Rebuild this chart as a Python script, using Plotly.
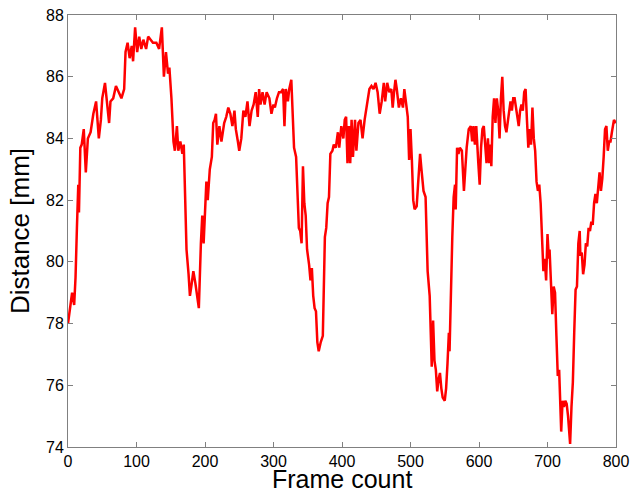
import plotly.graph_objects as go

# Distance trace (frame index -> distance in mm)
frames_a = [0, 3, 6, 9, 11, 13, 15, 16, 18, 20,
            23, 26, 29, 33, 37, 41, 45, 48, 50, 54,
            57, 60, 62, 66, 70, 74, 78, 82, 84, 87,
            90, 93, 95, 98, 101, 104, 107, 110, 114, 117,
            121, 124, 129, 133, 137, 140, 143, 146, 148, 151,
            154, 156, 159, 161, 164, 167, 169, 171, 173, 176,
            178, 180, 183, 186, 188, 191, 194, 196, 198, 200,
            202, 204, 207, 210, 212, 214, 216, 218, 221, 224,
            228, 231, 234, 237, 240, 243, 245, 248, 250, 253,
            256, 259, 262, 265, 268, 271, 274, 277, 279]
dist_a = [78.0, 78.5, 79.0, 78.6, 79.5, 81.1, 82.5, 81.6, 83.7, 83.8,
          84.3, 82.9, 84.0, 84.2, 84.8, 85.2, 84.0, 84.6, 85.3, 85.8,
          85.2, 84.5, 85.2, 85.3, 85.7, 85.5, 85.3, 85.6, 86.8, 87.1,
          86.6, 87.0, 86.5, 87.6, 86.8, 87.3, 86.9, 87.2, 86.9, 87.3,
          87.2, 87.1, 87.1, 86.9, 87.6, 86.0, 86.8, 86.1, 86.3, 85.3,
          83.9, 83.6, 84.4, 83.6, 83.9, 83.5, 83.8, 81.7, 80.4, 79.6,
          78.9, 79.2, 79.7, 79.3, 78.9, 78.5, 80.6, 81.5, 80.6, 81.9,
          82.6, 82.0, 83.0, 83.4, 84.5, 84.6, 84.8, 83.8, 84.4, 83.9,
          84.5, 84.7, 85.0, 84.8, 84.4, 84.9, 84.3, 83.9, 83.6, 84.0,
          84.9, 84.7, 85.2, 84.4, 84.9, 85.1, 85.5, 84.7, 85.6]

frames_b = [281, 284, 287, 290, 294, 297, 300, 302, 305, 308,
            311, 314, 316, 318, 321, 323, 326, 328, 330, 333,
            335, 337, 339, 341, 343, 345, 347, 349, 352, 354,
            356, 358, 360, 362, 364, 366, 369, 372, 375, 377,
            379, 381, 383, 386, 388, 391, 394, 396, 399, 402,
            404, 406, 408, 410, 412, 414, 416, 419, 421, 424,
            427, 430, 433, 435, 437, 440, 443, 446, 449, 452,
            455, 458, 461, 463, 466, 469, 472, 474, 476, 478,
            480, 483, 486, 489, 491, 493, 496, 498, 500, 502,
            504, 506, 509, 511]
dist_b = [85.1, 85.5, 85.1, 85.5, 85.3, 84.8, 85.1, 85.0, 85.3, 85.5,
          85.5, 85.6, 84.4, 85.6, 85.2, 85.6, 85.9, 85.0, 83.7, 83.4,
          82.4, 81.1, 81.0, 80.6, 83.1, 81.9, 81.5, 80.4, 79.9, 79.4,
          79.8, 78.9, 78.5, 78.4, 77.4, 77.1, 77.4, 77.6, 80.8, 81.1,
          81.9, 82.1, 83.5, 83.6, 83.8, 83.7, 84.2, 83.7, 84.4, 84.0,
          84.6, 84.7, 83.2, 84.4, 83.2, 84.6, 83.4, 84.6, 83.6, 84.5,
          84.6, 84.0, 84.6, 84.9, 85.3, 85.6, 85.7, 85.6, 85.8, 85.5,
          84.8, 85.2, 85.8, 85.2, 85.8, 85.5, 85.6, 85.0, 85.5, 85.9,
          85.6, 85.0, 85.3, 85.0, 85.6, 85.2, 84.7, 83.3, 84.3, 83.3,
          82.0, 81.7, 81.8, 82.5]

frames_c = [514, 516, 519, 522, 525, 528, 531, 533, 535, 537,
            539, 541, 543, 545, 547, 550, 552, 554, 556, 557,
            559, 561, 563, 565, 566, 568, 570, 572, 575, 577,
            578, 580, 582, 585, 588, 590, 592, 594, 596, 599,
            601, 603, 605, 607, 609, 611, 613, 615, 617, 618,
            620, 622, 624, 626, 628, 630, 632, 634, 636, 638,
            640, 642, 644, 646, 648, 650, 652, 654, 656, 658,
            660, 662, 664, 666, 668, 670, 672, 674, 676, 678,
            680, 682, 684, 686, 688, 690, 692, 694, 696, 698,
            700, 702, 703, 705, 707, 709, 711, 713, 715, 717,
            719, 720, 722, 724, 726, 728, 730, 733, 735, 737,
            739, 741, 743, 745, 747, 748, 750, 752, 754, 756,
            758, 760, 762, 764, 766, 768, 770, 772, 774, 776,
            778, 780, 782, 784, 786, 788, 790, 792, 794, 797,
            800]
dist_c = [83.5, 83.0, 82.3, 82.1, 79.7, 78.9, 76.6, 78.1, 76.8, 76.5,
          75.8, 76.2, 76.4, 75.9, 75.6, 75.5, 75.9, 76.7, 77.7, 77.1,
          79.3, 80.8, 82.1, 82.5, 81.7, 83.7, 83.5, 83.7, 83.6, 82.4,
          82.3, 83.0, 83.7, 84.3, 84.4, 83.9, 84.4, 83.8, 84.4, 83.2,
          82.5, 83.7, 84.3, 84.4, 83.6, 83.2, 84.0, 83.2, 83.8, 83.1,
          84.7, 85.3, 84.5, 85.3, 84.9, 84.0, 85.3, 86.0, 84.9, 84.4,
          84.2, 84.6, 84.9, 85.2, 84.9, 85.3, 85.3, 84.9, 84.7, 84.4,
          84.9, 85.1, 84.9, 85.5, 85.6, 84.6, 83.7, 84.3, 83.8, 85.0,
          84.0, 83.6, 82.6, 82.3, 82.5, 81.9, 80.8, 79.7, 80.1, 79.4,
          80.9, 80.1, 80.4, 79.5, 78.3, 79.2, 79.0, 77.6, 76.3, 76.5,
          75.4, 74.5, 75.5, 75.3, 75.5, 75.4, 75.0, 74.1, 75.3, 76.1,
          77.7, 79.1, 79.2, 80.6, 81.0, 80.2, 80.3, 79.6, 79.9, 80.6,
          80.5, 81.1, 81.0, 81.3, 81.2, 81.9, 82.2, 81.9, 82.4, 82.9,
          82.3, 82.7, 83.4, 84.3, 84.4, 83.6, 83.9, 83.9, 84.2, 84.6,
          84.5]

x_ticks = [0, 100, 200, 300, 400, 500, 600, 700, 800]
y_ticks = [74, 76, 78, 80, 82, 84, 86, 88]
x_title = "Frame count"
y_title = "Distance [mm]"

frames = frames_a + frames_b + frames_c
dist = dist_a + dist_b + dist_c
n = min(len(frames), len(dist))
frames, dist = frames[:n], dist[:n]

FONT = "Liberation Sans, Arial, Helvetica, sans-serif"
AX = "#808080"

fig = go.Figure()
fig.add_trace(go.Scatter(x=frames, y=dist, mode="lines",
                         line=dict(color="#ff0000", width=2.5),
                         showlegend=False, hoverinfo="skip"))

axis_common = dict(showgrid=False, zeroline=False, showline=True,
                   linecolor=AX, linewidth=1, mirror="ticks",
                   ticks="inside", ticklen=5, tickwidth=1, tickcolor=AX,
                   tickfont=dict(family=FONT, size=16, color="#000000"),
                   automargin=False)

fig.update_layout(
    width=643, height=494,
    margin=dict(l=68, r=27, t=15, b=47, pad=0),
    paper_bgcolor="white", plot_bgcolor="white",
    xaxis=dict(range=[0, 800], tickvals=x_ticks, **axis_common),
    yaxis=dict(range=[74, 88], tickvals=y_ticks,
               title=dict(text=y_title, standoff=8,
                          font=dict(family=FONT, size=26, color="#000000")),
               **axis_common),
    annotations=[dict(text=x_title, xref="paper", yref="paper",
                      x=0.5, y=0, xanchor="center", yanchor="bottom",
                      yshift=-47, showarrow=False, borderpad=0,
                      font=dict(family=FONT, size=25, color="#000000"))],
)

fig.write_html("out.html",
               config={"displayModeBar": False},
               post_script="document.body.style.margin='0';document.body.style.overflow='hidden';")
